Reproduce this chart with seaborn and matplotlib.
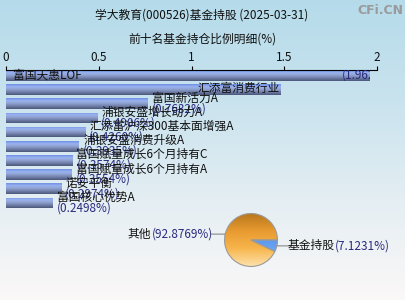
import numpy as np
import pandas as pd
import matplotlib
matplotlib.use("Agg")
import matplotlib.pyplot as plt
from matplotlib.colors import LinearSegmentedColormap
import seaborn as sns

sns.set_theme(style="white")
plt.rcParams['font.family'] = ['Noto Sans CJK SC', 'DejaVu Sans']

# ---------------- data ----------------
title = "学大教育(000526)基金持股 (2025-03-31)"
subtitle = "前十名基金持仓比例明细(%)"
fund_names = ["富国天惠LOF", "汇添富消费行业", "富国新活力A", "浦银安盛增长动力A",
              "汇添富沪深300基本面增强A", "浦银安盛消费升级A", "富国赋量成长6个月持有C",
              "富国赋量成长6个月持有A", "诺安平衡", "富国核心优势A"]
fund_values = [1.9622, 1.4771, 0.7632, 0.4906, 0.4260, 0.3935, 0.3574, 0.3554, 0.2974, 0.2498]
x_ticks = [0, 0.5, 1, 1.5, 2]
x_tick_labels = ["0", "0.5", "1", "1.5", "2"]
pie_labels = ["基金持股", "其他"]
pie_values = [7.1231, 92.8769]

W, H = 405, 300
fig = plt.figure(figsize=(W / 100, H / 100), dpi=100)

# background gradient
bg = fig.add_axes([0, 0, 1, 1], zorder=-10)
bg_cmap = LinearSegmentedColormap.from_list("bg", ["#b5dbea", "#c9e3ee", "#e4eef3", "#fbf8f8"])
bg.imshow(np.linspace(0, 1, 256).reshape(-1, 1), cmap=bg_cmap, aspect="auto",
          extent=[0, 1, 0, 1], origin="upper")
bg.set_axis_off()

navy = "#2a2a7e"
fs = 8.5

fig.text(202 / W, 1 - 15 / H, title, ha="center", va="center", fontsize=fs, color="#111111")
fig.text(202 / W, 1 - 39 / H, subtitle, ha="center", va="center", fontsize=fs, color="#111111")
fig.text(380 / W, 1 - 11 / H, "CFi.CN", ha="center", va="center", fontsize=9,
         color="#9a9a9a", fontweight="bold", family="DejaVu Sans")

# ---------------- bar chart ----------------
ax = fig.add_axes([6 / W, 1 - 210 / H, 371 / W, 140 / H])
ax.set_facecolor("none")
df = pd.DataFrame({"name": fund_names, "value": fund_values})
sns.barplot(data=df, x="value", y="name", orient="h", color="#7d94d0",
            width=0.75, ax=ax, saturation=1)

bar_grad = LinearSegmentedColormap.from_list(
    "bar", ["#6f90e6", "#9bb3f0", "#8e9fcc", "#6d7ca6", "#4b5879"])
grad = np.linspace(0, 1, 64).reshape(-1, 1)
patches = list(ax.patches)
for p in patches:
    x0, y0 = p.get_x(), p.get_y()
    w, h = p.get_width(), p.get_height()
    im = ax.imshow(grad, cmap=bar_grad, aspect="auto",
                   extent=[x0, x0 + w, y0 + h, y0], origin="upper", zorder=2)
    im.set_clip_path(p)
    p.set_alpha(0)

ax.set_xlim(0, 2)
ax.set_ylim(9.5, -0.375)
ax.xaxis.tick_top()
ax.set_xticks(x_ticks)
ax.set_xticklabels(x_tick_labels, fontsize=fs, color="#111111")
ax.tick_params(axis="x", direction="out", length=3, width=0.8, color="black", pad=1)
ax.set_yticks([])
ax.set_xlabel("")
ax.set_ylabel("")
for s in ["left", "right", "bottom"]:
    ax.spines[s].set_visible(False)
ax.spines["top"].set_color("black")
ax.spines["top"].set_linewidth(0.8)

for i, (n, v) in enumerate(zip(fund_names, fund_values)):
    vt = f"({v:.4f}%)"
    if i == 0:
        ax.annotate(n, xy=(0, i), xytext=(5, 0), textcoords="offset points",
                    ha="left", va="center", fontsize=fs, color="#111111", zorder=5)
        t = ax.annotate(vt, xy=(v, i), xytext=(-20, 0), textcoords="offset points",
                        ha="left", va="center", fontsize=fs, color=navy, zorder=5)
        t.set_clip_path(patches[i])
    elif i == 1:
        ax.annotate(n, xy=(v, i), xytext=(0, 1), textcoords="offset points",
                    ha="right", va="center", fontsize=fs, color="#111111", zorder=5)
    else:
        ax.annotate(n, xy=(v, i), xytext=(3, 4), textcoords="offset points",
                    ha="left", va="center", fontsize=fs, color="#111111", zorder=5)
        ax.annotate(vt, xy=(v, i), xytext=(3, -3.5), textcoords="offset points",
                    ha="left", va="center", fontsize=fs, color=navy, zorder=5)

# ---------------- pie ----------------
pax = fig.add_axes([(251 - 27) / W, 1 - (240 + 27) / H, 54 / W, 54 / H])
pax.set_facecolor("none")
wedges, _ = pax.pie(pie_values, startangle=0, counterclock=False,
                    colors=["#4a8cea", "#f5a93a"],
                    wedgeprops=dict(edgecolor="#9a9a9a", linewidth=0.8))
pax.set_xlim(-1.02, 1.02)
pax.set_ylim(-1.02, 1.02)
pax.set_aspect("equal")
pax.set_axis_off()

cmaps = [LinearSegmentedColormap.from_list("b", ["#3a78dc", "#5a98f0", "#8ab8f5"]),
         LinearSegmentedColormap.from_list("o", ["#b8771c", "#e89a30", "#f7b54c", "#fde0a8"])]
for wdg, cm in zip(wedges, cmaps):
    im = pax.imshow(grad, cmap=cm, aspect="auto", extent=[-1, 1, -1, 1],
                    origin="upper", zorder=1)
    im.set_clip_path(wdg)
    wdg.set_facecolor("none")
    wdg.set_zorder(2)

for wdg, lab, val in zip(wedges, pie_labels, pie_values):
    ang = np.deg2rad((wdg.theta1 + wdg.theta2) / 2)
    ex, ey = np.cos(ang), np.sin(ang)
    side = 1 if ex > 0 else -1
    pax.annotate("", xy=(ex, ey), xytext=(side * 10, 0), textcoords="offset points",
                 xycoords="data", annotation_clip=False,
                 arrowprops=dict(arrowstyle="-", color="#888888", lw=0.8,
                                 shrinkA=0, shrinkB=0))
    if side > 0:
        t1 = pax.annotate(lab, xy=(ex, ey), xytext=(side * 8, 0), textcoords="offset points",
                          ha="left", va="center", fontsize=fs, color="#111111",
                          annotation_clip=False)
        pax.annotate(f"({val:.4f}%)", xy=(1, 0.5), xycoords=t1, ha="left", va="center",
                     fontsize=fs, color=navy, annotation_clip=False)
    else:
        t1 = pax.annotate(f"({val:.4f}%)", xy=(ex, ey), xytext=(side * 9, 0),
                          textcoords="offset points", ha="right", va="center",
                          fontsize=fs, color=navy, annotation_clip=False)
        pax.annotate(lab, xy=(0, 0.5), xycoords=t1, ha="right", va="center",
                     fontsize=fs, color="#111111", annotation_clip=False)

fig.savefig("out.png", dpi=100)
